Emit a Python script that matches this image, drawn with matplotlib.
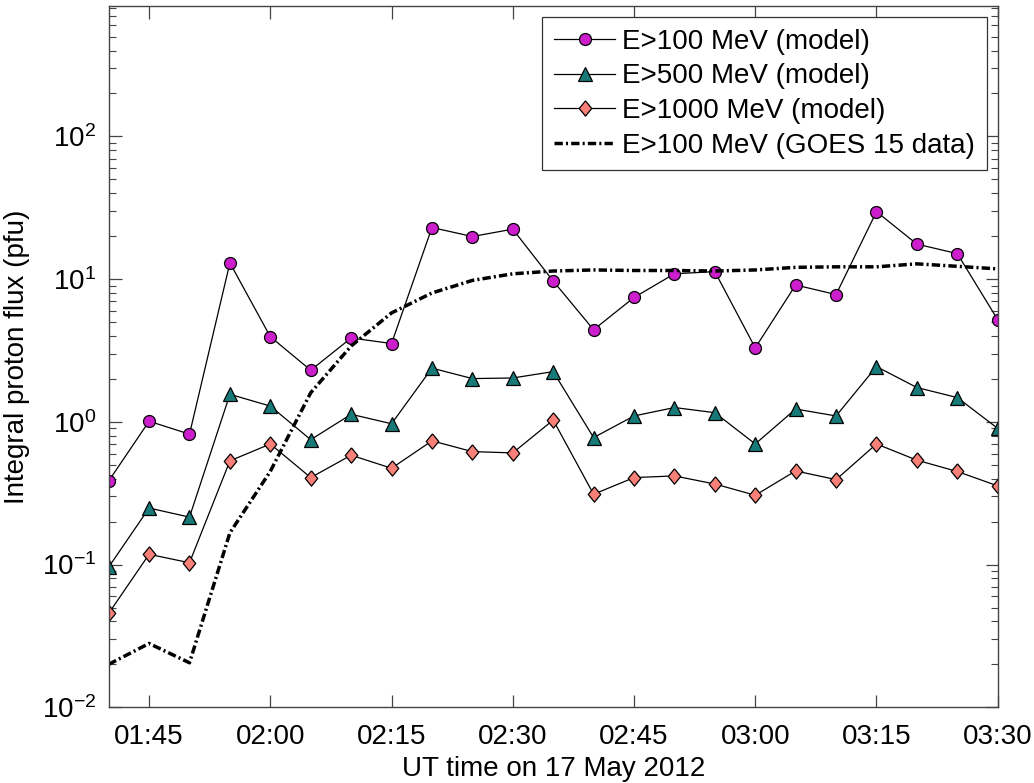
import numpy as np
import matplotlib
matplotlib.use("Agg")
import matplotlib.pyplot as plt
import matplotlib.dates as mdates
from datetime import datetime, timedelta

# times every 5 min, 01:40 - 03:30 UT, 17 May 2012
t0 = datetime(2012, 5, 17, 1, 40)
times = [t0 + timedelta(minutes=5 * i) for i in range(23)]

e100_model = [0.385, 1.01, 0.82, 13.0, 3.95, 2.3, 3.87, 3.54, 23.0, 19.9, 22.4, 9.7,
              4.42, 7.44, 10.9, 11.3, 3.3, 9.1, 7.8, 29.7, 17.6, 15.1, 5.2]
e500_model = [0.096, 0.249, 0.215, 1.56, 1.29, 0.75, 1.13, 0.97, 2.38, 2.01, 2.03, 2.25,
              0.776, 1.10, 1.26, 1.16, 0.70, 1.23, 1.10, 2.44, 1.74, 1.48, 0.90]
e1000_model = [0.0455, 0.118, 0.103, 0.533, 0.70, 0.407, 0.584, 0.473, 0.736, 0.619, 0.606, 1.03,
               0.311, 0.407, 0.418, 0.367, 0.306, 0.453, 0.394, 0.70, 0.539, 0.449, 0.356]
goes_e100 = [0.020, 0.028, 0.0205, 0.167, 0.45, 1.6, 3.4, 5.8, 8.0, 9.8, 10.9, 11.4,
             11.6, 11.5, 11.5, 11.4, 11.6, 12.1, 12.2, 12.2, 12.8, 12.3, 11.8]

labels = ["E>100 MeV (model)", "E>500 MeV (model)", "E>1000 MeV (model)",
          "E>100 MeV (GOES 15 data)"]

plt.rcParams["font.family"] = ["Liberation Sans", "DejaVu Sans"]
plt.rcParams["mathtext.fontset"] = "custom"
plt.rcParams["mathtext.rm"] = "Liberation Sans"
plt.rcParams["mathtext.it"] = "Liberation Sans:italic"
plt.rcParams["axes.unicode_minus"] = False

# MATLAB-like diamond, a bit taller than wide
diamond = [(0, 1), (0.82, 0), (0, -1), (-0.82, 0), (0, 1)]

fig = plt.figure(figsize=(10.34, 7.83), dpi=100)
ax = fig.add_axes([0.1051, 0.0967, 0.8598, 0.8956])

ax.plot(times, e100_model, "-o", color="black", lw=0.9, ms=8.6,
        mfc="#cc1ecc", mec="black", mew=0.9, label=labels[0])
ax.plot(times, e500_model, "-^", color="black", lw=0.9, ms=9.6,
        mfc="#177a78", mec="black", mew=0.9, label=labels[1])
ax.plot(times, e1000_model, "-", marker=diamond, color="black", lw=0.9, ms=11,
        mfc="#f88078", mec="black", mew=0.9, label=labels[2])
ax.plot(times, goes_e100, color="black", lw=2.5, ls=(0, (2.4, 0.9, 0.6, 0.9)),
        label=labels[3])

ax.set_yscale("log")
ax.set_ylim(1e-2, 820)
ax.set_xlim(times[0], times[-1])
ax.xaxis.set_major_locator(mdates.MinuteLocator(byminute=[0, 15, 30, 45]))
ax.xaxis.set_major_formatter(mdates.DateFormatter("%H:%M"))

ax.tick_params(which="both", direction="in", top=True, right=True,
               labelsize=20, color="#444444")
ax.tick_params(which="major", length=9, width=0.9, pad=9)
ax.tick_params(which="minor", length=5, width=0.8)
ax.tick_params(axis="x", which="major", pad=12)
for s in ax.spines.values():
    s.set_color("#444444")
    s.set_linewidth(1.0)

ax.set_xlabel("UT time on 17 May 2012", fontsize=20, labelpad=4)
ax.set_ylabel("Integral proton flux (pfu)", fontsize=20)
ax.yaxis.set_label_coords(-0.088, 0.5)

leg = ax.legend(loc="upper right", fontsize=20, frameon=True, fancybox=False,
                edgecolor="#333333", framealpha=1, handlelength=2.2,
                handletextpad=0.25, labelspacing=0.31, borderpad=0.42,
                borderaxespad=0.4)
leg.get_frame().set_linewidth(0.9)

fig.savefig("out.png", dpi=100)
